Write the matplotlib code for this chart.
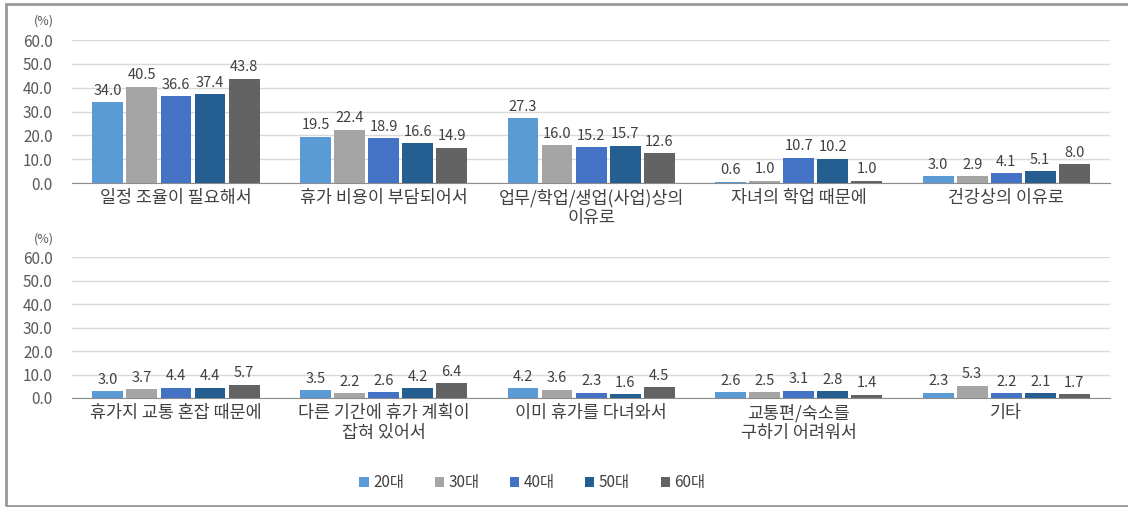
""" grouped bar chart: reasons for not taking vacation, by age group """
import matplotlib.pyplot as plt
import numpy as np
from matplotlib.patches import Rectangle

plt.rcParams['font.family'] = ['Noto Sans CJK KR', 'DejaVu Sans']

ages = ["20대", "30대", "40대", "50대", "60대"]
colors = ["#5B9BD5", "#A5A5A5", "#4472C4", "#255E91", "#636363"]

top_categories = ["일정 조율이 필요해서", "휴가 비용이 부담되어서", "업무/학업/생업(사업)상의\n이유로",
                  "자녀의 학업 때문에", "건강상의 이유로"]
top_values = [
    [34.0, 19.5, 27.3, 0.6, 3.0],   # 20대
    [40.5, 22.4, 16.0, 1.0, 2.9],   # 30대
    [36.6, 18.9, 15.2, 10.7, 4.1],  # 40대
    [37.4, 16.6, 15.7, 10.2, 5.1],  # 50대
    [43.8, 14.9, 12.6, 1.0, 8.0],   # 60대
]

bottom_categories = ["휴가지 교통 혼잡 때문에", "다른 기간에 휴가 계획이\n잡혀 있어서", "이미 휴가를 다녀와서",
                     "교통편/숙소를\n구하기 어려워서", "기타"]
bottom_values = [
    [3.0, 3.5, 4.2, 2.6, 2.3],
    [3.7, 2.2, 3.6, 2.5, 5.3],
    [4.4, 2.6, 2.3, 3.1, 2.2],
    [4.4, 4.2, 1.6, 2.8, 2.1],
    [5.7, 6.4, 4.5, 1.4, 1.7],
]

fig = plt.figure(figsize=(11.28, 5.07), dpi=100)
fig.patches.append(Rectangle((0.0055, 0.002), 1.2, 0.99, transform=fig.transFigure,
                             fill=False, edgecolor="#999999", linewidth=2))


def draw_panel(ax, categories, values):
    x = np.arange(len(categories))
    slot = 0.164
    width = 0.149
    for i, (age, col) in enumerate(zip(ages, colors)):
        offs = (i - 2) * slot
        bars = ax.bar(x + offs, values[i], width, color=col, label=age, zorder=3)
        for b, v in zip(bars, values[i]):
            ax.text(b.get_x() + b.get_width() / 2, v + 1.8, f"{v:.1f}", ha="center", va="bottom",
                    fontsize=10.5, color="#404040")
    ax.set_xlim(-0.5, len(categories) - 0.5)
    ax.set_ylim(0, 60)
    ax.set_yticks(np.arange(0, 61, 10))
    ax.set_yticklabels([f"{t:.1f}" for t in np.arange(0, 61, 10)], fontsize=11, color="#595959")
    ax.set_xticks(x)
    ax.set_xticklabels(categories, fontsize=12.5, color="#404040", linespacing=1.15)
    ax.tick_params(axis="both", length=0)
    ax.tick_params(axis="y", pad=14)
    ax.tick_params(axis="x", pad=4)
    ax.grid(axis="y", color="#D9D9D9", linewidth=1, zorder=0)
    for s in ["top", "right", "left"]:
        ax.spines[s].set_visible(False)
    ax.spines["bottom"].set_color("#8C8C8C")
    ax.text(-0.018, 1.13, "(%)", transform=ax.transAxes, ha="right", va="center",
            fontsize=9, color="#595959")


ax1 = fig.add_axes([0.064, 0.639, 0.920, 0.282])
draw_panel(ax1, top_categories, top_values)
ax2 = fig.add_axes([0.064, 0.215, 0.920, 0.278])
draw_panel(ax2, bottom_categories, bottom_values)

handles, labels = ax2.get_legend_handles_labels()
fig.legend(handles, labels, loc="center", bbox_to_anchor=(0.472, 0.048), ncol=5, frameon=False,
           fontsize=11, handlelength=0.6, handleheight=0.6, handletextpad=0.3, columnspacing=2.0,
           labelcolor="#404040")

fig.savefig("out.png", dpi=100)
